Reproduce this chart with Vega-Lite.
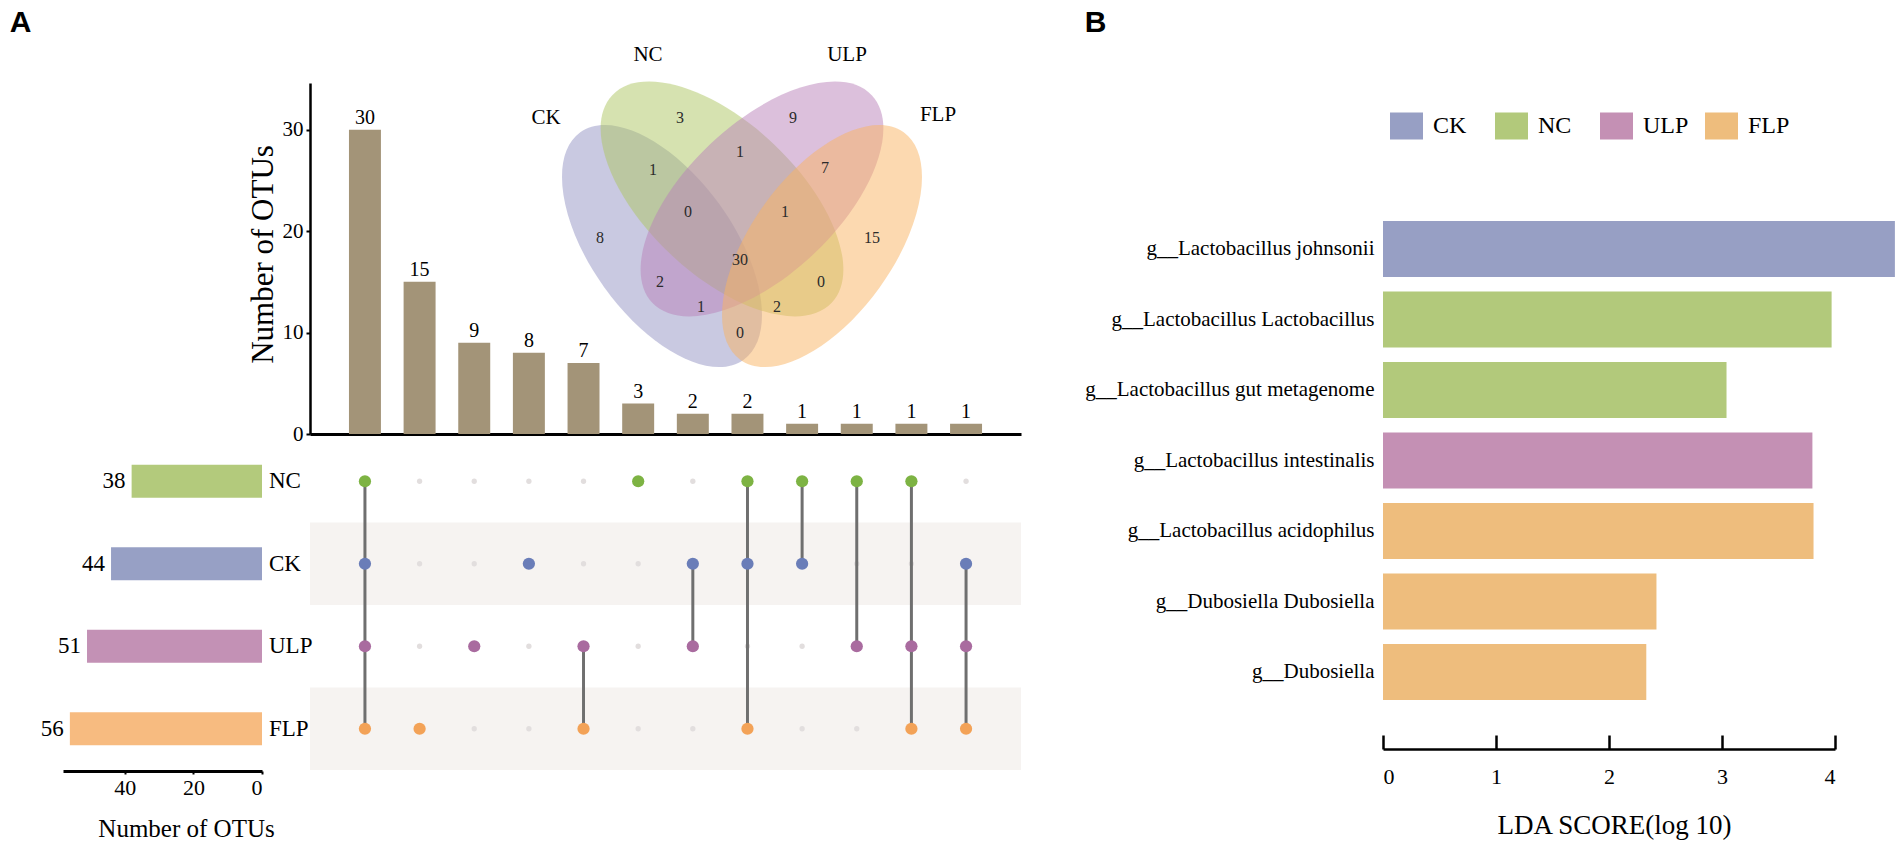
{
  "$schema": "https://vega.github.io/schema/vega-lite/v6.json",
  "width": 1902,
  "height": 849,
  "autosize": {"type": "none"},
  "padding": 0,
  "background": "white",
  "config": {
    "view": {"stroke": null},
    "font": "Liberation Serif",
    "axis": {"labelColor": "black", "titleColor": "black", "domainColor": "black", "tickColor": "black", "grid": false, "titleFontWeight": "normal", "labelFont": "Liberation Serif", "titleFont": "Liberation Serif"},
    "text": {"font": "Liberation Serif", "color": "black"}
  },
  "datasets": {
    "inter": [
      {"col": 1, "n": 30}, {"col": 2, "n": 15}, {"col": 3, "n": 9}, {"col": 4, "n": 8},
      {"col": 5, "n": 7}, {"col": 6, "n": 3}, {"col": 7, "n": 2}, {"col": 8, "n": 2},
      {"col": 9, "n": 1}, {"col": 10, "n": 1}, {"col": 11, "n": 1}, {"col": 12, "n": 1}
    ],
    "grid": [
      {"col": 1, "set": "NC", "member": true}, {"col": 1, "set": "CK", "member": true}, {"col": 1, "set": "ULP", "member": true}, {"col": 1, "set": "FLP", "member": true},
      {"col": 2, "set": "NC", "member": false}, {"col": 2, "set": "CK", "member": false}, {"col": 2, "set": "ULP", "member": false}, {"col": 2, "set": "FLP", "member": true},
      {"col": 3, "set": "NC", "member": false}, {"col": 3, "set": "CK", "member": false}, {"col": 3, "set": "ULP", "member": true}, {"col": 3, "set": "FLP", "member": false},
      {"col": 4, "set": "NC", "member": false}, {"col": 4, "set": "CK", "member": true}, {"col": 4, "set": "ULP", "member": false}, {"col": 4, "set": "FLP", "member": false},
      {"col": 5, "set": "NC", "member": false}, {"col": 5, "set": "CK", "member": false}, {"col": 5, "set": "ULP", "member": true}, {"col": 5, "set": "FLP", "member": true},
      {"col": 6, "set": "NC", "member": true}, {"col": 6, "set": "CK", "member": false}, {"col": 6, "set": "ULP", "member": false}, {"col": 6, "set": "FLP", "member": false},
      {"col": 7, "set": "NC", "member": false}, {"col": 7, "set": "CK", "member": true}, {"col": 7, "set": "ULP", "member": true}, {"col": 7, "set": "FLP", "member": false},
      {"col": 8, "set": "NC", "member": true}, {"col": 8, "set": "CK", "member": true}, {"col": 8, "set": "ULP", "member": false}, {"col": 8, "set": "FLP", "member": true},
      {"col": 9, "set": "NC", "member": true}, {"col": 9, "set": "CK", "member": true}, {"col": 9, "set": "ULP", "member": false}, {"col": 9, "set": "FLP", "member": false},
      {"col": 10, "set": "NC", "member": true}, {"col": 10, "set": "CK", "member": false}, {"col": 10, "set": "ULP", "member": true}, {"col": 10, "set": "FLP", "member": false},
      {"col": 11, "set": "NC", "member": true}, {"col": 11, "set": "CK", "member": false}, {"col": 11, "set": "ULP", "member": true}, {"col": 11, "set": "FLP", "member": true},
      {"col": 12, "set": "NC", "member": false}, {"col": 12, "set": "CK", "member": true}, {"col": 12, "set": "ULP", "member": true}, {"col": 12, "set": "FLP", "member": true}
    ],
    "links": [
      {"col": 1, "from": "NC", "to": "FLP"}, {"col": 5, "from": "ULP", "to": "FLP"},
      {"col": 7, "from": "CK", "to": "ULP"}, {"col": 8, "from": "NC", "to": "FLP"},
      {"col": 9, "from": "NC", "to": "CK"}, {"col": 10, "from": "NC", "to": "ULP"},
      {"col": 11, "from": "NC", "to": "FLP"}, {"col": 12, "from": "CK", "to": "FLP"}
    ],
    "sizes": [
      {"set": "NC", "n": 38}, {"set": "CK", "n": 44}, {"set": "ULP", "n": 51}, {"set": "FLP", "n": 56}
    ],
    "ellipses": [
      {"set": "CK", "vx": 0.3, "vy": 0.535},
      {"set": "NC", "vx": 0.45, "vy": 0.6525},
      {"set": "ULP", "vx": 0.55, "vy": 0.6525},
      {"set": "FLP", "vx": 0.7, "vy": 0.535}
    ],
    "vlabels": [
      {"lab": "3", "vx": 0.345, "vy": 0.855}, {"lab": "9", "vx": 0.6275, "vy": 0.855},
      {"lab": "1", "vx": 0.2775, "vy": 0.725}, {"lab": "1", "vx": 0.495, "vy": 0.77},
      {"lab": "7", "vx": 0.7075, "vy": 0.73}, {"lab": "8", "vx": 0.145, "vy": 0.555},
      {"lab": "0", "vx": 0.365, "vy": 0.62}, {"lab": "1", "vx": 0.6075, "vy": 0.62},
      {"lab": "15", "vx": 0.825, "vy": 0.555}, {"lab": "30", "vx": 0.495, "vy": 0.5},
      {"lab": "2", "vx": 0.295, "vy": 0.445}, {"lab": "0", "vx": 0.6975, "vy": 0.445},
      {"lab": "1", "vx": 0.3975, "vy": 0.3825}, {"lab": "2", "vx": 0.5875, "vy": 0.3825},
      {"lab": "0", "vx": 0.495, "vy": 0.3175}
    ],
    "vnames": [
      {"lab": "NC", "vx": 0.265, "vy": 1.0125}, {"lab": "ULP", "vx": 0.7625, "vy": 1.0125},
      {"lab": "CK", "vx": 0.01, "vy": 0.855}, {"lab": "FLP", "vx": 0.99, "vy": 0.8625}
    ],
    "lda": [
      {"taxon": "g__Lactobacillus johnsonii", "group": "CK", "score": 4.53},
      {"taxon": "g__Lactobacillus Lactobacillus", "group": "NC", "score": 3.97},
      {"taxon": "g__Lactobacillus gut metagenome", "group": "NC", "score": 3.04},
      {"taxon": "g__Lactobacillus intestinalis", "group": "ULP", "score": 3.8},
      {"taxon": "g__Lactobacillus acidophilus", "group": "FLP", "score": 3.81},
      {"taxon": "g__Dubosiella Dubosiella", "group": "FLP", "score": 2.42},
      {"taxon": "g__Dubosiella", "group": "FLP", "score": 2.33}
    ]
  },
  "resolve": {
    "scale": {"x": "independent", "y": "independent", "color": "independent"},
    "axis": {"x": "independent", "y": "independent"},
    "legend": {"color": "independent"}
  },
  "layer": [
    {
      "data": {"values": [{"set": "CK"}, {"set": "FLP"}]},
      "mark": {"type": "rect", "color": "#f6f3f1"},
      "encoding": {
        "x": {"datum": 0, "type": "quantitative", "scale": {"domain": [0, 1], "range": [310, 1021], "nice": false, "zero": false}, "axis": null},
        "x2": {"datum": 1},
        "y": {"field": "set", "type": "nominal", "scale": {"domain": ["NC", "CK", "ULP", "FLP"], "range": [440, 770], "paddingInner": 0, "paddingOuter": 0}, "axis": null}
      }
    },
    {
      "data": {"name": "inter"},
      "encoding": {
        "x": {"field": "col", "type": "ordinal", "scale": {"domain": [1,2,3,4,5,6,7,8,9,10,11,12], "range": [310, 1021], "paddingInner": 0.415, "paddingOuter": 0.713},
              "axis": {"orient": "bottom", "offset": -415, "domainWidth": 3, "ticks": false, "labels": false, "title": null}},
        "y": {"field": "n", "type": "quantitative", "scale": {"domain": [0, 34.6], "range": [434, 83], "nice": false},
              "axis": {"orient": "left", "offset": -310, "values": [0, 10, 20, 30], "tickSize": 4, "tickWidth": 2, "domainWidth": 2.5,
                       "labelFontSize": 21, "labelPadding": 3,
                       "title": "Number of OTUs", "titleFontSize": 31, "titleX": -47, "titleY": 254, "titleAngle": -90, "titleAlign": "center", "titleBaseline": "middle"}}
      },
      "layer": [
        {"mark": {"type": "bar", "color": "#a39478"}},
        {"mark": {"type": "text", "dy": -6, "baseline": "alphabetic", "fontSize": 20}, "encoding": {"text": {"field": "n"}}}
      ]
    },
    {
      "layer": [
        {
          "data": {"name": "grid"},
          "mark": {"type": "point", "filled": true, "size": 28, "color": "#e2dede", "opacity": 1},
          "encoding": {
            "x": {"field": "col", "type": "ordinal", "scale": {"domain": [1,2,3,4,5,6,7,8,9,10,11,12], "range": [310, 1021], "paddingInner": 0.415, "paddingOuter": 0.713}, "axis": null},
            "y": {"field": "set", "type": "nominal", "scale": {"domain": ["NC", "CK", "ULP", "FLP"], "range": [440, 770], "paddingInner": 0, "paddingOuter": 0}, "axis": null}
          }
        },
        {
          "data": {"name": "links"},
          "mark": {"type": "rule", "strokeWidth": 3, "color": "#6f6f6f"},
          "encoding": {
            "x": {"field": "col", "type": "ordinal"},
            "y": {"field": "from", "type": "nominal"},
            "y2": {"field": "to"}
          }
        },
        {
          "data": {"name": "grid"},
          "transform": [{"filter": "datum.member"}],
          "mark": {"type": "point", "filled": true, "size": 150, "opacity": 1},
          "encoding": {
            "x": {"field": "col", "type": "ordinal"},
            "y": {"field": "set", "type": "nominal"},
            "color": {"field": "set", "type": "nominal", "scale": {"domain": ["NC", "CK", "ULP", "FLP"], "range": ["#7db343", "#6a7db8", "#a96b9f", "#f3a257"]}, "legend": null}
          }
        }
      ]
    },
    {
      "data": {"name": "sizes"},
      "encoding": {
        "x": {"field": "n", "type": "quantitative", "scale": {"domain": [0, 58], "range": [262, 63], "nice": false},
              "axis": {"orient": "bottom", "offset": -78, "values": [0, 20, 40], "tickSize": 3, "tickWidth": 2, "domainWidth": 3,
                       "labelFontSize": 22, "labelPadding": 3,
                       "title": "Number of OTUs", "titleFontSize": 25, "titleX": 186, "titleY": 57, "titleAlign": "center", "titleBaseline": "middle"}},
        "y": {"field": "set", "type": "nominal", "scale": {"domain": ["NC", "CK", "ULP", "FLP"], "range": [440, 770], "paddingInner": 0.6, "paddingOuter": 0.3}, "axis": null}
      },
      "layer": [
        {"mark": {"type": "bar"}, "encoding": {"color": {"field": "set", "type": "nominal", "scale": {"domain": ["NC", "CK", "ULP", "FLP"], "range": ["#b3ca7c", "#97a0c5", "#c391b5", "#f7bb80"]}, "legend": null}}},
        {"mark": {"type": "text", "dx": -6, "align": "right", "baseline": "middle", "fontSize": 23}, "encoding": {"text": {"field": "n"}}},
        {"mark": {"type": "text", "dx": 7, "align": "left", "baseline": "middle", "fontSize": 23}, "encoding": {"x": {"datum": 0}, "text": {"field": "set"}}}
      ]
    },
    {
      "encoding": {
        "x": {"field": "vx", "type": "quantitative", "scale": {"domain": [0, 1], "range": [542, 942], "nice": false, "zero": false},
              "axis": {"orient": "top", "offset": 0, "domain": false, "ticks": false, "labels": false,
                       "title": "A", "titleFont": "Liberation Sans", "titleFontWeight": "bold", "titleFontSize": 30, "titleX": 20, "titleY": 31, "titleAlign": "center", "titleBaseline": "alphabetic"}},
        "y": {"field": "vy", "type": "quantitative", "scale": {"domain": [0, 1], "range": [460, 60], "nice": false, "zero": false}, "axis": null}
      },
      "layer": [
        {"data": {"name": "ellipses"}, "transform": [{"filter": "datum.set == 'CK'"}],
         "mark": {"type": "point", "shape": "M-1,0C-1,-0.28,-0.5523,-0.507,0,-0.507C0.5523,-0.507,1,-0.28,1,0C1,0.28,0.5523,0.507,0,0.507C-0.5523,0.507,-1,0.28,-1,0Z", "size": 78400, "angle": 54.3, "filled": true, "fill": "#9393c3", "fillOpacity": 0.5, "strokeWidth": 0}},
        {"data": {"name": "ellipses"}, "transform": [{"filter": "datum.set == 'NC'"}],
         "mark": {"type": "point", "shape": "M-1,0C-1,-0.276,-0.5523,-0.5,0,-0.5C0.5523,-0.5,1,-0.276,1,0C1,0.276,0.5523,0.5,0,0.5C-0.5523,0.5,-1,0.276,-1,0Z", "size": 91204, "angle": 43.4, "filled": true, "fill": "#adc561", "fillOpacity": 0.5, "strokeWidth": 0}},
        {"data": {"name": "ellipses"}, "transform": [{"filter": "datum.set == 'ULP'"}],
         "mark": {"type": "point", "shape": "M-1,0C-1,-0.276,-0.5523,-0.5,0,-0.5C0.5523,-0.5,1,-0.276,1,0C1,0.276,0.5523,0.5,0,0.5C-0.5523,0.5,-1,0.276,-1,0Z", "size": 91204, "angle": -43.4, "filled": true, "fill": "#b981b9", "fillOpacity": 0.5, "strokeWidth": 0}},
        {"data": {"name": "ellipses"}, "transform": [{"filter": "datum.set == 'FLP'"}],
         "mark": {"type": "point", "shape": "M-1,0C-1,-0.28,-0.5523,-0.507,0,-0.507C0.5523,-0.507,1,-0.28,1,0C1,0.28,0.5523,0.507,0,0.507C-0.5523,0.507,-1,0.28,-1,0Z", "size": 78400, "angle": -54.3, "filled": true, "fill": "#f9b361", "fillOpacity": 0.5, "strokeWidth": 0}},
        {"data": {"name": "vlabels"}, "mark": {"type": "text", "fontSize": 16, "color": "#2b2b2b", "align": "center", "baseline": "middle"}, "encoding": {"text": {"field": "lab"}}},
        {"data": {"name": "vnames"}, "mark": {"type": "text", "fontSize": 21, "align": "center", "baseline": "middle"}, "encoding": {"text": {"field": "lab"}}}
      ]
    },
    {
      "data": {"name": "lda"},
      "mark": {"type": "bar"},
      "encoding": {
        "x": {"field": "score", "type": "quantitative", "scale": {"domain": [0, 4], "range": [1383, 1835], "nice": false},
              "axis": {"orient": "bottom", "offset": -100, "values": [0, 1, 2, 3, 4], "tickSize": -14, "tickWidth": 2.5, "domainWidth": 2.5,
                       "labelFontSize": 22, "labelPadding": 31,
                       "title": "LDA SCORE(log 10)", "titleFontSize": 27, "titleX": 1614, "titleY": 76, "titleAlign": "center", "titleBaseline": "middle"}},
        "y": {"field": "taxon", "type": "nominal", "sort": null,
              "scale": {"domain": ["g__Lactobacillus johnsonii", "g__Lactobacillus Lactobacillus", "g__Lactobacillus gut metagenome", "g__Lactobacillus intestinalis", "g__Lactobacillus acidophilus", "g__Dubosiella Dubosiella", "g__Dubosiella"], "range": [213.75, 707.25], "paddingInner": 0.205, "paddingOuter": 0.1025},
              "axis": {"orient": "left", "offset": -1383, "domain": false, "ticks": false, "labelPadding": 9, "labelFontSize": 21, "labelLimit": 0,
                       "title": "B", "titleFont": "Liberation Sans", "titleFontWeight": "bold", "titleFontSize": 30, "titleAngle": 0, "titleX": -288, "titleY": 31, "titleAlign": "center", "titleBaseline": "alphabetic"}},
        "color": {"field": "group", "type": "nominal",
                  "scale": {"domain": ["CK", "NC", "ULP", "FLP"], "range": ["#979fc4", "#b2c97b", "#c490b4", "#eebd7d"]},
                  "legend": {"orient": "none", "legendX": 1390, "legendY": 109, "direction": "horizontal", "title": null,
                             "symbolType": "M-1,-0.82L1,-0.82L1,0.82L-1,0.82Z", "symbolSize": 1089, "symbolStrokeWidth": 0, "symbolOpacity": 1,
                             "labelFont": "Liberation Serif", "labelFontSize": 24, "labelColor": "black", "labelOffset": 10,
                             "columnPadding": 16, "gridAlign": "all", "padding": 0}}
      }
    }
  ]
}
